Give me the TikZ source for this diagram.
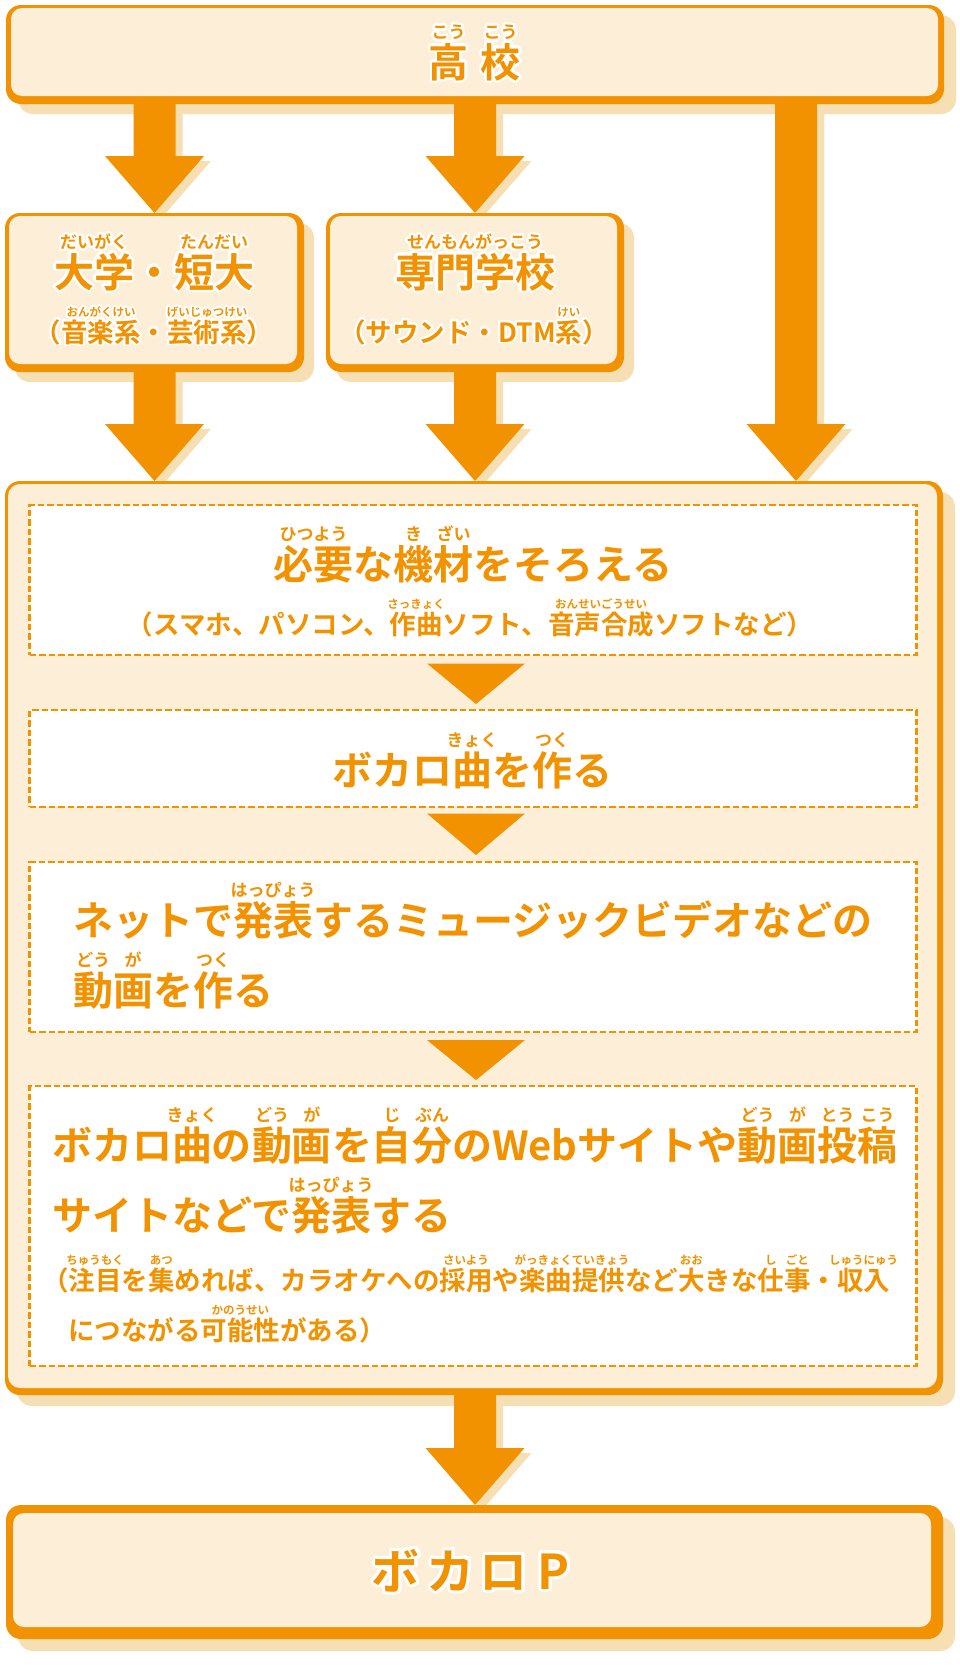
\documentclass[tikz,border=0pt]{standalone}
\usepackage{fontspec}
\usepackage[copies]{contour}
\usetikzlibrary{calc}
\newfontfamily\jp{Noto Sans CJK JP}[BoldFont={* Bold}]
\definecolor{org}{RGB}{243,146,0}
\definecolor{cream}{RGB}{253,238,216}
\definecolor{tanc}{RGB}{247,223,180}
\contourlength{2.2pt}
\contournumber{32}
\newsavebox\rbA
\newsavebox\rbB
\def\rsz{17}
\newcommand\rb[2]{\sbox\rbA{#1}\sbox\rbB{\fontsize{\rsz}{\rsz}\selectfont #2}\rlap{\raisebox{0.96em}[0pt][0pt]{\makebox[\wd\rbA]{\usebox\rbB}}}\usebox\rbA}
\newcommand\fL{\fontsize{40}{48}\selectfont\def\rsz{17}}
\newcommand\fS{\fontsize{26.5}{32}\selectfont\def\rsz{11.5}}
\newcommand\barrow[3]{\fill[#1] ([shift={(-21,-3)}]#2) -- ([shift={(21,-3)}]#2) -- ([shift={(21,-57)}]#3) -- ([shift={(49.5,-57)}]#3) -- (#3) -- ([shift={(-49.5,-57)}]#3) -- ([shift={(-21,-57)}]#3) -- cycle;}
\pgfdeclarelayer{shd}
\pgfdeclarelayer{arr}
\pgfsetlayers{shd,arr,main}
\begin{document}
\begin{tikzpicture}[x=1pt,y=-1pt,
  obox/.style={fill=org, rounded corners=15, inner sep=0, outer sep=0, draw=none},
  dbox/.style={draw=org, line width=2.2pt, dash pattern=on 6.5pt off 3pt, fill=white, inner sep=0, outer sep=0, minimum width=887},
  txt/.style={font=\jp\bfseries, text=org, inner sep=0, outer sep=0},
  big/.style={txt, font=\jp\bfseries\fL},
  sml/.style={txt, font=\jp\bfseries\fS}]
\path[use as bounding box] (0,0) rectangle (960,1665);
% boxes
\node[obox, minimum width=938, minimum height=99] (kou) at (475,54.5) {};
\node[obox, minimum width=299, minimum height=159] (dai) at (154.5,292.5) {};
\node[obox, minimum width=298, minimum height=159] (sen) at (475,292.5) {};
\node[obox, minimum width=938, minimum height=914] (bigbox) at (474,938) {};
\node[obox, minimum width=937, minimum height=134] (vp) at (474.5,1572) {};
\fill[cream, rounded corners=11] ([shift={(5,3)}]kou.north west) rectangle ([shift={(-6,-8)}]kou.south east);
\fill[cream, rounded corners=11] ([shift={(4,3)}]dai.north west) rectangle ([shift={(-7,-8)}]dai.south east);
\fill[cream, rounded corners=11] ([shift={(4,3)}]sen.north west) rectangle ([shift={(-7,-8)}]sen.south east);
\fill[cream, rounded corners=12] ([shift={(3,3)}]bigbox.north west) rectangle ([shift={(-6,-7)}]bigbox.south east);
\fill[cream, rounded corners=11] ([shift={(7,8)}]vp.north west) rectangle ([shift={(-12,-12)}]vp.south east);
% dashed steps
\node[dbox, minimum height=150] (d1) at (473,580) {};
\node[dbox, minimum height=97] (d2) at (473,758.5) {};
\node[dbox, minimum height=170] (d3) at (473,947) {};
\node[dbox, minimum height=280] (d4) at (473,1226) {};
\coordinate (tx) at (476,0);
\fill[org] ($(d1.south -| tx)+(-49,8.5)$) -- ($(d1.south -| tx)+(49,8.5)$) -- ($(d2.north -| tx)+(0,-6)$) -- cycle;
\fill[org] ($(d2.south -| tx)+(-49,6.5)$) -- ($(d2.south -| tx)+(49,6.5)$) -- ($(d3.north -| tx)+(0,-7)$) -- cycle;
\fill[org] ($(d3.south -| tx)+(-49,8)$) -- ($(d3.south -| tx)+(49,8)$) -- ($(d4.north -| tx)+(0,-6)$) -- cycle;
% arrow end points
\coordinate (c3) at (796,0);
\coordinate (a1s) at (kou.south -| dai.north);
\coordinate (a1e) at (dai.north);
\coordinate (a2s) at (kou.south -| sen.north);
\coordinate (a2e) at (sen.north);
\coordinate (a3s) at (kou.south -| c3);
\coordinate (a3e) at (bigbox.north -| c3);
\coordinate (a4s) at (dai.south);
\coordinate (a4e) at (bigbox.north -| dai.south);
\coordinate (a5s) at (sen.south);
\coordinate (a5e) at (bigbox.north -| sen.south);
\coordinate (a6s) at (bigbox.south -| sen.south);
\coordinate (a6e) at (vp.north -| sen.south);
\begin{pgfonlayer}{shd}
\fill[white] (0,0) rectangle (960,1665);
\fill[tanc, rounded corners=15, transform canvas={shift={(12,10)}}] (kou.north west) rectangle (kou.south east);
\fill[tanc, rounded corners=15, transform canvas={shift={(10,10)}}] (dai.north west) rectangle (dai.south east);
\fill[tanc, rounded corners=15, transform canvas={shift={(10,10)}}] (sen.north west) rectangle (sen.south east);
\fill[tanc, rounded corners=15, transform canvas={shift={(12,11)}}] (bigbox.north west) rectangle (bigbox.south east);
\fill[tanc, rounded corners=15, transform canvas={shift={(12,12)}}] (vp.north west) rectangle (vp.south east);
\barrow{tanc, transform canvas={shift={(7,5)}}}{a1s}{a1e}
\barrow{tanc, transform canvas={shift={(7,5)}}}{a2s}{a2e}
\barrow{tanc, transform canvas={shift={(7,5)}}}{a3s}{a3e}
\barrow{tanc, transform canvas={shift={(7,5)}}}{a4s}{a4e}
\barrow{tanc, transform canvas={shift={(7,5)}}}{a5s}{a5e}
\barrow{tanc, transform canvas={shift={(7,5)}}}{a6s}{a6e}
\end{pgfonlayer}
\begin{pgfonlayer}{arr}
\barrow{org}{a1s}{a1e}
\barrow{org}{a2s}{a2e}
\barrow{org}{a3s}{a3e}
\barrow{org}{a4s}{a4e}
\barrow{org}{a5s}{a5e}
\barrow{org}{a6s}{a6e}
\end{pgfonlayer}
% texts
\node[big, anchor=base] (tkou) at (474.6,77) {\contourlength{2.5pt}\contour{white}{\rb{高}{こう}\kern12pt\rb{校}{こう}}};
\node[big, anchor=base] (tdai1) at (154,287) {\contour{white}{\rb{大学}{だいがく}・\rb{短大}{たんだい}}};
\node[sml, anchor=base] (tdai2) at (154,342) {\contourlength{1.8pt}\contour{white}{（\rb{音楽系}{おんがくけい}・\rb{芸術系}{げいじゅつけい}）}};
\node[big, anchor=base] (tsen1) at (475,287) {\contour{white}{\rb{専門学校}{せんもんがっこう}}};
\node[sml, anchor=base] (tsen2) at (474,342) {\contourlength{1.8pt}\contour{white}{（サウンド・DTM\rb{系}{けい}）}};
\node[big, anchor=base] (t11) at (473,579) {\rb{必要}{ひつよう}な\rb{機}{き}\rb{材}{ざい}をそろえる};
\node[sml, anchor=base] (t12) at (470,634) {（スマホ、パソコン、\rb{作曲}{さっきょく}ソフト、\rb{音声合成}{おんせいごうせい}ソフトなど）};
\node[big, anchor=base] (t21) at (472,785) {ボカロ\rb{曲}{きょく}を\rb{作}{つく}る};
\node[big, anchor=base west] (t31) at (73,935) {ネットで\rb{発表}{はっぴょう}するミュージックビデオなどの};
\node[big, anchor=base west] (t32) at (73,1005) {\rb{動}{どう}\rb{画}{が}を\rb{作}{つく}る};
\node[big, anchor=base west] (t41) at (52,1160) {ボカロ\rb{曲}{きょく}の\rb{動}{どう}\rb{画}{が}を\rb{自}{じ}\rb{分}{ぶん}のWebサイトや\rb{動}{どう}\rb{画}{が}\rb{投}{とう}\rb{稿}{こう}};
\node[big, anchor=base west] (t42) at (52,1230) {サイトなどで\rb{発表}{はっぴょう}する};
\node[sml, anchor=base west] (t43) at (42,1290) {（\rb{注目}{ちゅうもく}を\rb{集}{あつ}めれば、カラオケへの\rb{採用}{さいよう}や\rb{楽曲提供}{がっきょくていきょう}など\rb{大}{おお}きな\rb{仕}{し}\rb{事}{ごと}・\rb{収入}{しゅうにゅう}};
\node[sml, anchor=base west] (t44) at (68,1340) {につながる\rb{可能性}{かのうせい}がある）};
\node[txt, font=\jp\bfseries\fontsize{48}{54}\selectfont, anchor=base] (tvp) at (471,1589) {\contourlength{3pt}\contour{white}{ボ\kern7pt カ\kern5pt ロ\kern10pt P}};
\end{tikzpicture}
\end{document}
